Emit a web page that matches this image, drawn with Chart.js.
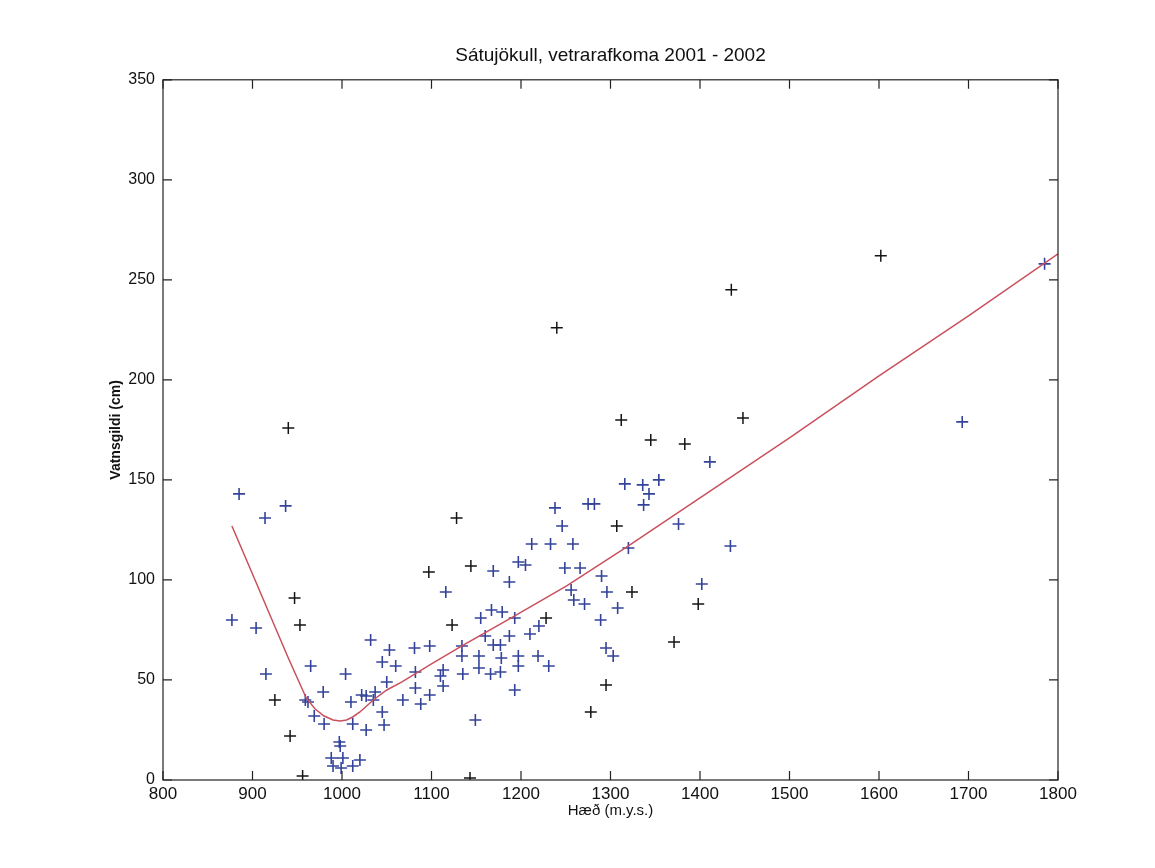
<!DOCTYPE html>
<html>
<head>
<meta charset="utf-8">
<script src="https://cdn.jsdelivr.net/npm/chart.js@4.4.1/dist/chart.umd.min.js"></script>
<style>
  html, body { margin: 0; padding: 0; background: #fff; }
  #wrap { width: 1155px; height: 868px; }
</style>
</head>
<body>
<div id="wrap"><canvas id="chart"></canvas></div>
<script>
// stake measurements, split by how dark the marks printed
const blackX = [940, 1240, 1435, 1602, 1448, 1312, 1345, 1383, 1128, 1307, 1097, 1144, 1123, 947, 953, 925, 942, 956, 1143, 1278, 1295, 1371, 1398, 1324, 1228];
const blackY = [176, 226, 245, 262, 181, 180, 170, 168, 131, 127, 104, 107, 77.5, 91, 77.5, 40, 22, 2, 1, 34, 47.5, 69, 88, 94, 81];

const blueX = [885, 937, 914, 877, 904, 1032, 1053, 1081, 1045, 1060, 965, 1004, 915, 1050, 1082, 979, 959, 962, 1010, 1022, 1027, 1035, 1037, 1068, 1045, 969, 980, 1012, 1027, 1047, 997, 998, 988, 1001, 990, 999, 1012, 1020,
  1316, 1336, 1354, 1343, 1337, 1275, 1282, 1238, 1246, 1212, 1233, 1258, 1320, 1197, 1205, 1249, 1266, 1290, 1296, 1256, 1259, 1271, 1308, 1289, 1116, 1169, 1187, 1155, 1167, 1179, 1193, 1220, 1210, 1187, 1160, 1169, 1177, 1134, 1098, 1134, 1153, 1178, 1197, 1219, 1231, 1197, 1166, 1177, 1153, 1135, 1113, 1110, 1113, 1082, 1098, 1088, 1193, 1149, 1295, 1303,
  1785, 1693, 1411, 1376, 1434, 1402];
const blueY = [143, 137, 131, 80, 76, 70, 65, 66, 59, 57, 57, 53, 53, 49, 46, 44, 40, 39, 39, 42.5, 42, 40, 44, 40, 34, 32, 28, 28, 25, 27.5, 19, 17, 11, 11, 7, 6, 7, 10,
  148, 147.5, 150, 143, 137.5, 138, 138, 136, 127, 118, 118, 118, 116, 109, 107.5, 106, 106, 102, 94, 95, 90, 88, 86, 80, 94, 104.5, 99, 81, 85, 84, 81, 77, 73, 72, 72, 67.5, 67.5, 67, 67, 62, 62, 61, 62, 62, 57, 57, 53, 54, 56, 53, 55, 52, 47, 54, 42.5, 38, 45, 30, 66, 62,
  258, 179, 159, 128, 117, 98];

// fitted curve
const fitX = [877, 900, 919, 940, 960, 970, 980, 990, 998, 1005, 1012, 1020, 1035, 1050, 1067, 1100, 1134, 1193, 1251, 1320, 1400, 1500, 1600, 1700, 1800];
const fitY = [127, 103, 83, 61, 41, 35.5, 32, 30, 29.5, 30, 31.5, 34, 40, 45, 49, 58, 67, 82, 97, 117, 141, 171, 202, 232, 263];

const xTicks = [800, 900, 1000, 1100, 1200, 1300, 1400, 1500, 1600, 1700, 1800];
const yTicks = [0, 50, 100, 150, 200, 250, 300, 350];

const pts = (xs, ys) => xs.map((x, i) => ({ x: x, y: ys[i] }));

// matlab style box with inward ticks
const boxTicks = {
  id: 'boxTicks',
  afterDraw(chart) {
    const ctx = chart.ctx;
    const a = chart.chartArea;
    const sx = chart.scales.x, sy = chart.scales.y;
    ctx.save();
    ctx.strokeStyle = '#222';
    ctx.lineWidth = 1.2;
    ctx.strokeRect(a.left, a.top, a.right - a.left, a.bottom - a.top);
    ctx.beginPath();
    xTicks.forEach(v => {
      const px = sx.getPixelForValue(v);
      ctx.moveTo(px, a.bottom); ctx.lineTo(px, a.bottom - 9);
      ctx.moveTo(px, a.top); ctx.lineTo(px, a.top + 9);
    });
    yTicks.forEach(v => {
      const py = sy.getPixelForValue(v);
      ctx.moveTo(a.left, py); ctx.lineTo(a.left + 9, py);
      ctx.moveTo(a.right, py); ctx.lineTo(a.right - 9, py);
    });
    ctx.stroke();
    ctx.restore();
  }
};

new Chart(document.getElementById('chart').getContext('2d'), {
  type: 'scatter',
  data: {
    datasets: [
      {
        label: 'fit',
        data: pts(fitX, fitY),
        showLine: true,
        borderColor: '#c9505c',
        borderWidth: 1.5,
        pointRadius: 0,
        tension: 0
      },
      {
        label: 'black',
        data: pts(blackX, blackY),
        pointStyle: 'cross',
        pointRadius: 6,
        borderColor: '#151515',
        borderWidth: 1.5
      },
      {
        label: 'blue',
        data: pts(blueX, blueY),
        pointStyle: 'cross',
        pointRadius: 6,
        borderColor: '#34439a',
        borderWidth: 1.6
      }
    ]
  },
  options: {
    responsive: true,
    maintainAspectRatio: false,
    animation: false,
    layout: { padding: { left: 0, right: 97, top: 0, bottom: 48 } },
    plugins: {
      legend: { display: false },
      tooltip: { enabled: false },
      title: {
        display: true,
        fullSize: false,
        text: 'Sátujökull, vetrarafkoma 2001 - 2002',
        color: '#111',
        font: { family: 'Liberation Sans, Arial, sans-serif', size: 19, weight: 'normal' },
        padding: { top: 44, bottom: 13 }
      }
    },
    scales: {
      x: {
        type: 'linear',
        min: 800,
        max: 1800,
        afterBuildTicks: s => { s.ticks = xTicks.map(v => ({ value: v })); },
        afterFit: s => { s.height = 40; },
        grid: { display: false, drawTicks: false },
        border: { display: false },
        ticks: {
          color: '#111',
          padding: 4,
          callback: v => String(v),
          font: { family: 'Liberation Sans, Arial, sans-serif', size: 17 }
        },
        title: {
          display: true,
          text: 'Hæð (m.y.s.)',
          color: '#111',
          padding: { top: 0, bottom: 0 },
          font: { family: 'Liberation Sans Narrow, Liberation Sans, Arial, sans-serif', size: 15 }
        }
      },
      y: {
        type: 'linear',
        min: 0,
        max: 350,
        afterBuildTicks: s => { s.ticks = yTicks.map(v => ({ value: v })); },
        afterFit: s => { s.width = 163; },
        grid: { display: false, drawTicks: false },
        border: { display: false },
        ticks: {
          color: '#111',
          padding: 8,
          callback: v => String(v),
          font: { family: 'Liberation Sans, Arial, sans-serif', size: 16 }
        },
        title: {
          display: true,
          text: 'Vatnsgildi (cm)',
          color: '#111',
          padding: { top: 108, bottom: 0 },
          font: { family: 'Liberation Sans Narrow, Liberation Sans, Arial, sans-serif', size: 14, weight: 'bold' }
        }
      }
    }
  },
  plugins: [boxTicks]
});
</script>
</body>
</html>
